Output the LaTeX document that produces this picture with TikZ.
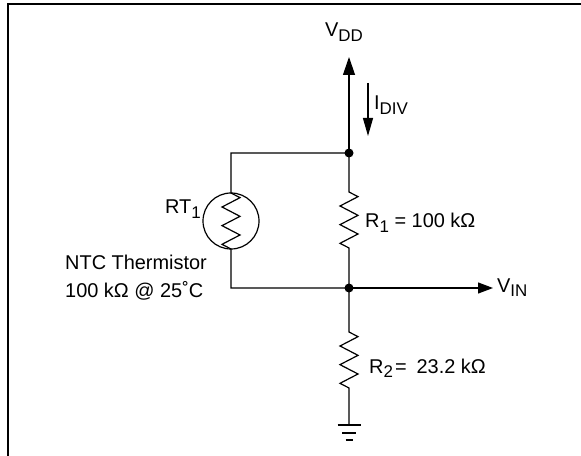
\documentclass[tikz,border=0pt]{standalone}
\usepackage{fontspec}
\setmainfont{Liberation Sans}
\usetikzlibrary{arrows.meta}
\newcommand{\sbs}[1]{\raisebox{-4.5bp}{\fontsize{17}{17}\selectfont #1}}
\tikzset{
  wire/.style={line width=1.2bp, line cap=butt},
  lbl/.style={inner sep=0pt, font=\fontsize{20}{24}\selectfont},
  dot/.style={circle, fill=black, inner sep=0pt, minimum size=9bp},
  frame/.style={line width=2bp}
}
\begin{document}
\begin{tikzpicture}[x=1bp,y=-1bp]
\useasboundingbox (0,0) rectangle (581,456);
% frame
\coordinate (fa) at (7.7,470);
\coordinate (fb) at (7.7,4.3);
\coordinate (fc) at (590,4.3);
\draw[frame] (fa) -- (fb) -- (fc);

% coordinates
\coordinate (vdd) at (349,57);
\coordinate (jt) at (349,153);
\coordinate (r1t) at (349,192);
\coordinate (r1b) at (349,248);
\coordinate (jb) at (349,288);
\coordinate (r2t) at (349,332);
\coordinate (r2b) at (349,388);
\coordinate (gnd) at (349,425);
\coordinate (tl) at (231,153);
\coordinate (bl) at (231,288);
\coordinate (tht) at (231,193);
\coordinate (thb) at (231,249);
\coordinate (vin) at (493,288);
\coordinate (is) at (368,83);
\coordinate (ie) at (368,136);

% VDD arrow
\draw[wire,-{Triangle[length=18bp,width=12bp]}] (jt) -- (vdd);
% I_DIV arrow
\draw[wire,-{Triangle[length=18bp,width=10bp]}] (is) -- (ie);

% R1
\draw[wire] (jt) -- (r1t) -- ++(9,4.67) -- ++(-18,9.33) -- ++(18,9.33) -- ++(-18,9.33)
  -- ++(18,9.33) -- ++(-18,9.33) -- ++(9,4.67) -- (jb);
% R2
\draw[wire] (jb) -- (r2t) -- ++(9,4.67) -- ++(-18,9.33) -- ++(18,9.33) -- ++(-18,9.33)
  -- ++(18,9.33) -- ++(-18,9.33) -- ++(9,4.67) -- (gnd);
% ground
\draw[wire] (gnd) ++(-11.5,0) -- ++(23,0);
\draw[wire] (gnd) ++(-7,8) -- ++(14,0);
\draw[wire] (gnd) ++(-3.5,15) -- ++(7,0);

% thermistor
\node[circle, draw, line width=1.2bp, minimum size=56bp, inner sep=0pt] (th) at (231,221) {};
\draw[wire] (jt) -- (tl) -- (tht) -- ++(9,4.67) -- ++(-18,9.33) -- ++(18,9.33) -- ++(-18,9.33)
  -- ++(18,9.33) -- ++(-18,9.33) -- ++(9,4.67) -- (bl) -- (jb);

% V_IN
\draw[wire,-{Triangle[length=15bp,width=11bp]}] (jb) -- (vin);

% dots
\node[dot] (dt) at (jt) {};
\node[dot] (db) at (jb) {};

% labels
\node[lbl, anchor=base west] (lvdd) at (325,37) {V\sbs{DD}};
\node[lbl, anchor=base west] (lidiv) at (374,110) {I\sbs{DIV}};
\node[lbl, anchor=base west] (lr1) at (365,228) {R\sbs{1} = 100 kΩ};
\node[lbl, anchor=base west] (lr2) at (369,373) {R\sbs{2}\hspace{2bp}=\hspace{10bp}23.2 kΩ};
\node[lbl, anchor=base east] (lrt) at (201,214) {RT\sbs{1}};
\node[lbl, anchor=base west] (lntc1) at (65,270) {NTC Thermistor};
\node[lbl, anchor=base west] (lntc2) at (65,297) {100 kΩ @ 25˚C};
\node[lbl, anchor=base west] (lvin) at (497,292) {V\sbs{IN}};
\end{tikzpicture}
\end{document}
